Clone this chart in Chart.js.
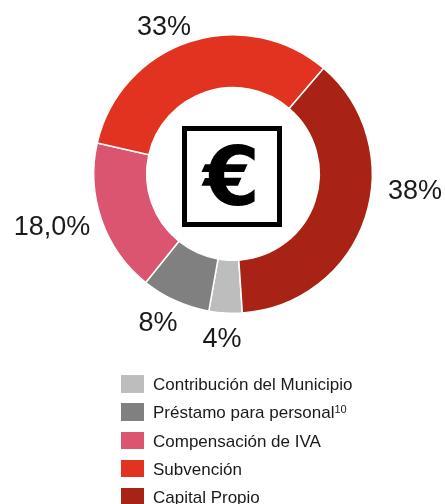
<!DOCTYPE html>
<html>
<head>
<meta charset="utf-8">
<title>Financiación</title>
<script src="https://cdn.jsdelivr.net/npm/chart.js@4/dist/chart.umd.min.js"></script>
<style>
	html, body { margin: 0; padding: 0; background: #fff; overflow: hidden; }
	#wrap { position: relative; width: 445px; height: 504px; overflow: hidden; }
	canvas { position: absolute; left: 0; top: 0; }
	#legend { position: absolute; left: 121px; top: 375px; margin: 0; padding: 0; list-style: none;
		font: 17px "Liberation Sans", Arial, sans-serif; color: #1a1a1a; }
	#legend li { height: 28.3px; white-space: nowrap; position: relative; padding-left: 32px; line-height: 20px; }
	#legend i { position: absolute; left: 0; top: 0; width: 23px; height: 17.5px; }
	#legend sup { font-size: 11px; line-height: 0; vertical-align: 5px; }
</style>
</head>
<body>
<div id="wrap">
	<canvas id="chart" width="445" height="504"></canvas>
	<ul id="legend"></ul>
</div>
<script>
var categories = ["Contribución del Municipio", "Préstamo para personal", "Compensación de IVA", "Subvención", "Capital Propio"];
var notes = ["", "10", "", "", ""];
var values = [3.85, 8, 17.8, 32.7, 37.65];
var valueLabels = ["4%", "8%", "18,0%", "33%", "38%"];
var colors = ["#bdbdbd", "#808080", "#dc5570", "#e1331f", "#a82315"];

// label centres, the source does not place them on a fixed radius
var labelPos = [[222, 340], [158, 324], [52, 228], [164, 28], [415, 192]];

var centerIcon = {
	id: "centerIcon",
	afterDraw: function(chart) {
		var ctx = chart.ctx;
		var arc = chart.getDatasetMeta(0).data[0];
		ctx.save();
		ctx.strokeStyle = "#000";
		ctx.lineWidth = 5;
		ctx.strokeRect(arc.x - 48.5, arc.y - 45.5, 95, 96);
		ctx.fillStyle = "#000";
		ctx.textAlign = "center";
		ctx.textBaseline = "middle";
		ctx.font = "bold 82px 'DejaVu Sans'";
		ctx.fillText("€", arc.x - 1.5, arc.y + 10);
		ctx.restore();
	}
};

var valueText = {
	id: "valueText",
	afterDraw: function(chart) {
		var ctx = chart.ctx;
		ctx.save();
		ctx.fillStyle = "#1a1a1a";
		ctx.textAlign = "center";
		ctx.textBaseline = "middle";
		ctx.font = "27px 'Liberation Sans'";
		valueLabels.forEach(function(label, i) {
			ctx.fillText(label, labelPos[i][0], labelPos[i][1]);
		});
		ctx.restore();
	}
};

new Chart(document.getElementById("chart").getContext("2d"), {
	type: "doughnut",
	data: {
		labels: categories,
		datasets: [{
			data: values,
			backgroundColor: colors,
			borderColor: "#fff",
			borderWidth: 1.5
		}]
	},
	options: {
		responsive: false,
		animation: false,
		rotation: 176.15,
		cutout: "62%",
		layout: { padding: { left: 93, right: 72, top: 34, bottom: 190 } },
		plugins: { legend: { display: false }, tooltip: { enabled: false } }
	},
	plugins: [centerIcon, valueText]
});

var legend = document.getElementById("legend");
categories.forEach(function(name, i) {
	var li = document.createElement("li");
	var box = document.createElement("i");
	box.style.background = colors[i];
	li.appendChild(box);
	li.appendChild(document.createTextNode(name));
	if (notes[i]) {
		var sup = document.createElement("sup");
		sup.textContent = notes[i];
		li.appendChild(sup);
	}
	legend.appendChild(li);
});
</script>
</body>
</html>
